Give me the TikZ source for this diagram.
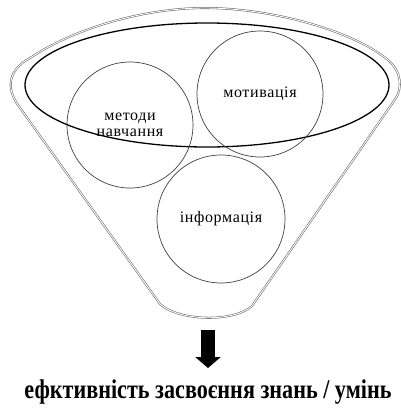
\documentclass[tikz,border=0pt]{standalone}
\usepackage{fontspec}
\setmainfont{Liberation Serif}
\usetikzlibrary{arrows.meta}
\tikzset{
  funnel/.style={draw=black!60, double=white, double distance=0.9pt, line width=0.55pt},
  rim/.style={draw=black, line width=1.3pt},
  ball/.style={circle, draw=black!75, line width=0.7pt, minimum size=#1, inner sep=0pt, align=center,
     font=\fontsize{16}{16}\selectfont\addfontfeature{LetterSpace=4}},
  bigarrow/.style={line width=14pt, -{Triangle[width=25pt,length=11pt]}},
  result/.style={font=\fontsize{27}{29}\selectfont\bfseries, inner sep=0pt}
}
\begin{document}
\begin{tikzpicture}[x=1pt,y=-1pt]
\useasboundingbox (0,0) rectangle (400,416);
% outer funnel
\draw[funnel] (160,304) -- (18,105) .. controls (6,88) and (8,70) .. (30,58)
  .. controls (80,25) and (150,8) .. (205,8)
  .. controls (270,8) and (352,30) .. (388,60)
  .. controls (402,72) and (402,88) .. (396,98)
  -- (252,306) .. controls (235,322) and (180,322) .. (160,304) -- cycle;
% inner rim ellipse
\draw[rim] (207,85) ellipse [x radius=182, y radius=62];
% circles
\node[ball=126pt] (methods) at (130,125) {методи\\навчання};
\node[ball=126pt] (motiv) at (260,94) {мотивація};
\node[ball=128pt] (info) at (221,219) {інформація};
% arrow
\coordinate (a1) at (208,330);
\coordinate (a2) at (208,368);
\draw[bigarrow] (a1) -- (a2);
% result
\node[result] (res) at (208,392) {\resizebox{367pt}{\height}{ефктивність засвоєння знань / умінь}};
\end{tikzpicture}
\end{document}
